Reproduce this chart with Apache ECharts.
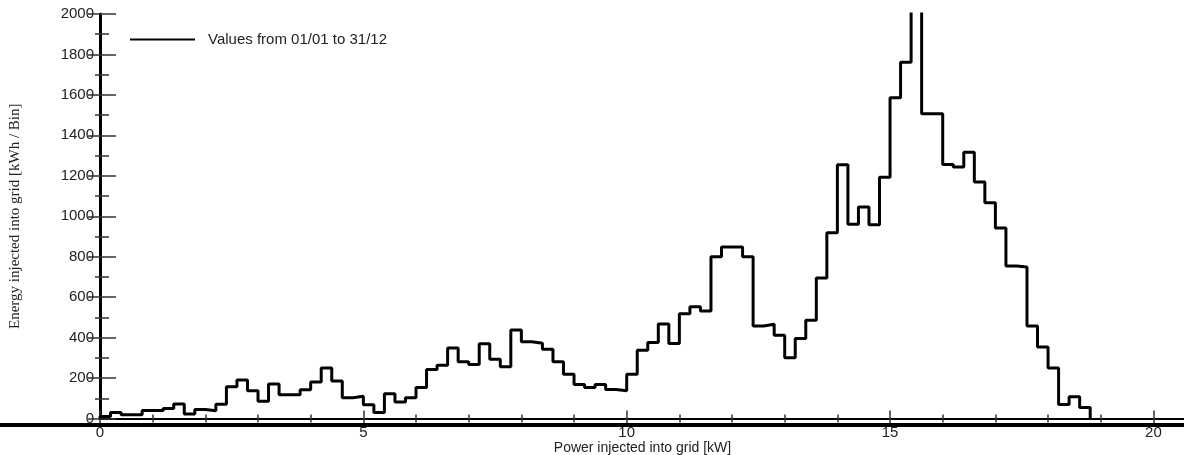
<!DOCTYPE html>
<html>
<head>
<meta charset="utf-8">
<script src="https://cdn.jsdelivr.net/npm/echarts@6/dist/echarts.min.js"></script>
<style>
  html, body { margin: 0; padding: 0; background: #fff; }
  #chart { width: 1184px; height: 455px; }
</style>
</head>
<body>
<div id="chart"></div>
<script>
// Histogram bins: width in kW, energy per bin (kWh / Bin), starting at 0 kW
const BIN_WIDTH = 0.2;
const binValues = [
  10, 30, 18, 18, 40, 40, 50, 72, 22, 45,
  38, 70, 157, 190, 137, 85, 170, 118, 118, 142,
  180, 250, 185, 103, 110, 68, 30, 122, 82, 102,
  153, 242, 263, 349, 280, 267, 370, 293, 256, 437,
  380, 372, 343, 280, 219, 168, 153, 168, 143, 137,
  219, 338, 376, 467, 371, 518, 552, 531, 800, 848,
  848, 800, 457, 466, 412, 300, 395, 486, 695, 919,
  1255, 960, 1046, 958, 1193, 1586, 1762, 2150, 1507, 1507,
  1256, 1243, 1317, 1169, 1067, 942, 754, 749, 457, 354,
  250, 69, 107, 54
];
const seriesName = 'Values from 01/01 to 31/12';
const xAxisName = 'Power injected into grid [kW]';
const yAxisName = 'Energy injected into grid [kWh / Bin]';

// Build step-line points at bin edges
const stepData = [[0, 0]];
binValues.forEach((v, i) => stepData.push([i * BIN_WIDTH, v]));
stepData.push([binValues.length * BIN_WIDTH, 0]);

const labelFont = { fontFamily: 'Liberation Sans', fontSize: 15, color: '#222' };
const tickStyle = { color: '#333', width: 1.5 };
const plain = v => String(v);

const chart = echarts.init(document.getElementById('chart'), null, { renderer: 'canvas' });
chart.setOption({
  animation: false,
  backgroundColor: '#fff',
  grid: { left: 100, top: 14, right: -1, bottom: 36.5, containLabel: false, outerBoundsMode: 'none' },
  legend: {
    left: 125, top: 27,
    itemWidth: 65, itemHeight: 2, icon: 'rect',
    data: [seriesName],
    textStyle: Object.assign({}, labelFont, { padding: [0, 0, 0, 8] })
  },
  xAxis: [
    {
      type: 'value', position: 'bottom', min: 0, max: 20.6, interval: 5,
      axisLine: { lineStyle: { color: '#000', width: 2 } },
      axisTick: { inside: true, length: 8, lineStyle: tickStyle },
      minorTick: { show: true, splitNumber: 5, length: 4, lineStyle: tickStyle },
      splitLine: { show: false }, minorSplitLine: { show: false },
      axisLabel: Object.assign({ showMaxLabel: false, margin: 7, formatter: plain }, labelFont),
      name: xAxisName, nameLocation: 'middle', nameGap: 23, nameMoveOverlap: false,
      nameTextStyle: { fontFamily: 'Liberation Sans', fontSize: 14, color: '#222' }
    },
    {
      type: 'value', position: 'top', min: 0, max: 20.6, interval: 5,
      axisLine: { lineStyle: { color: '#000', width: 2 } },
      axisTick: { inside: true, length: 8, lineStyle: tickStyle },
      minorTick: { show: true, splitNumber: 5, length: 4, lineStyle: tickStyle },
      splitLine: { show: false }, minorSplitLine: { show: false },
      axisLabel: { show: false }
    }
  ],
  yAxis: [
    {
      type: 'value', position: 'left', min: 0, max: 2000, interval: 200,
      axisLine: { show: true, lineStyle: { color: '#000', width: 3 } },
      axisTick: { show: true, inside: true, length: 16, lineStyle: tickStyle },
      minorTick: { show: true, splitNumber: 2, length: 9, lineStyle: tickStyle },
      splitLine: { show: false }, minorSplitLine: { show: false },
      axisLabel: Object.assign({ margin: 6, formatter: plain }, labelFont),
      name: yAxisName, nameLocation: 'middle', nameGap: 77, nameMoveOverlap: false,
      nameTextStyle: { fontFamily: 'Liberation Serif', fontSize: 15, color: '#222' }
    },
    {
      type: 'value', position: 'right', min: 0, max: 2000, interval: 200,
      axisLine: { show: true, lineStyle: { color: '#000', width: 2 } },
      axisTick: { show: true, inside: true, length: 12, lineStyle: tickStyle },
      minorTick: { show: true, splitNumber: 2, length: 5, lineStyle: tickStyle },
      splitLine: { show: false }, minorSplitLine: { show: false },
      axisLabel: { show: false }
    }
  ],
  graphic: [
    {
      type: 'rect', left: 0, top: 423, z: 100,
      shape: { width: 1184, height: 4 },
      style: { fill: '#000' }
    }
  ],
  series: [
    {
      name: seriesName, type: 'line', step: 'end',
      data: stepData, symbol: 'none', clip: true,
      lineStyle: { color: '#000', width: 3 },
      itemStyle: { color: '#000' }
    }
  ]
});
</script>
</body>
</html>
